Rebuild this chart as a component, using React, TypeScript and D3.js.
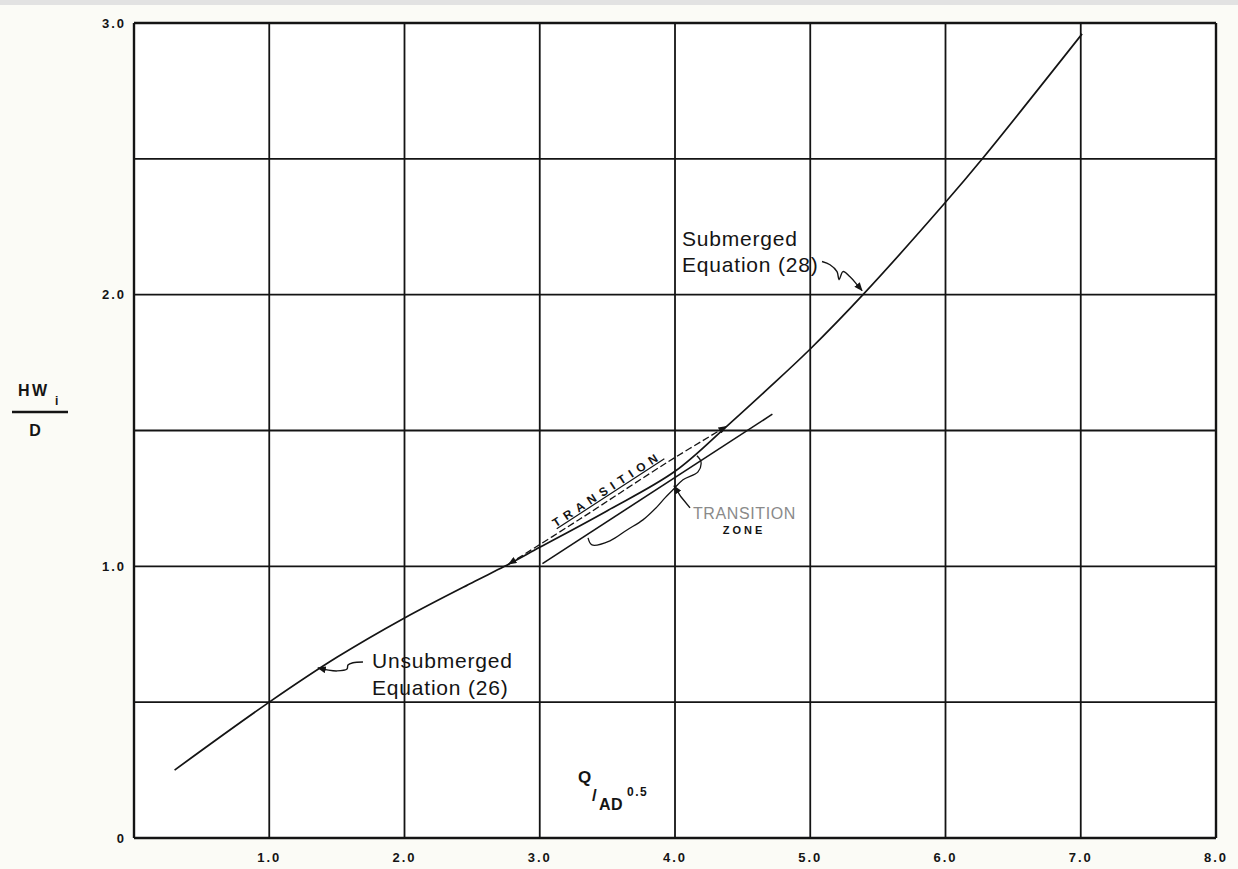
import React, { useEffect } from "react";
import * as d3 from "d3";

// ---- data ----
const xGridValues = [0, 1, 2, 3, 4, 5, 6, 7, 8];
const yGridValues = [0, 0.5, 1, 1.5, 2, 2.5, 3];
const xTickValues = [1, 2, 3, 4, 5, 6, 7, 8];
const xTickLabels = ["1.0", "2.0", "3.0", "4.0", "5.0", "6.0", "7.0", "8.0"];
const yTickValues = [0, 1, 2, 3];
const yTickLabels = ["0", "1.0", "2.0", "3.0"];

// main curve (unsubmerged eq. 26 -> submerged eq. 28)
const mainQ = [0.3, 1.0, 1.5, 2.0, 2.5, 2.74, 3.0, 3.5, 4.0, 4.37, 4.69, 5.0, 5.39, 6.0, 6.28, 7.01];
const mainHW = [0.25, 0.5, 0.665, 0.81, 0.94, 1.0, 1.07, 1.205, 1.35, 1.51, 1.655, 1.8, 2.0, 2.34, 2.505, 2.96];

// lower extension line
const lowerQ = [3.02, 4.72];
const lowerHW = [1.01, 1.56];

// transition dashed line
const transQ = [2.77, 3.3, 3.95, 4.38];
const transHW = [1.008, 1.175, 1.385, 1.515];

// leaders / brace
const subLeaderQ = [5.087, 5.146, 5.198, 5.213, 5.242, 5.294, 5.346, 5.383];
const subLeaderHW = [2.122, 2.11, 2.085, 2.055, 2.085, 2.066, 2.037, 2.015];
const unsubLeaderQ = [1.693, 1.619, 1.582, 1.575, 1.501, 1.427, 1.36];
const unsubLeaderHW = [0.648, 0.645, 0.637, 0.622, 0.615, 0.619, 0.626];
const braceQ = [3.357, 3.386, 3.519, 3.645, 3.763, 3.867, 3.926, 3.985, 4.059, 4.17, 4.192, 4.162];
const braceHW = [1.105, 1.079, 1.094, 1.134, 1.171, 1.219, 1.252, 1.282, 1.319, 1.348, 1.385, 1.407];
const zoneArrowQ = [4.111, 4.044, 3.993];
const zoneArrowHW = [1.215, 1.256, 1.296];

const W = 1238;
const H = 869;
const FONT = "'Liberation Sans', Arial, Helvetica, sans-serif";

export default function App() {
  useEffect(() => {
    document.body.style.margin = "0";
    document.body.style.background = "#fbfbf6";
  }, []);

  const x = d3.scaleLinear().domain([0, 8]).range([134, 1216]);
  const y = d3.scaleLinear().domain([0, 3]).range([838, 23]);

  const pts = (qs: number[], hs: number[]) => qs.map((q, i) => [q, hs[i]] as [number, number]);
  const smoothCR = d3.line<[number, number]>().x((d) => x(d[0])).y((d) => y(d[1])).curve(d3.curveCatmullRom.alpha(0.5));
  const straight = d3.line<[number, number]>().x((d) => x(d[0])).y((d) => y(d[1]));

  const ink = "#141414";

  return (
    <svg width={W} height={H} style={{ display: "block" }} xmlns="http://www.w3.org/2000/svg">
      <defs>
        <marker id="arr" viewBox="0 0 10 8" refX="9" refY="4" markerWidth="9" markerHeight="7" markerUnits="userSpaceOnUse" orient="auto-start-reverse">
          <path d="M0,0 L10,4 L0,8 Z" fill={ink} />
        </marker>
      </defs>
      <rect x={0} y={0} width={W} height={H} fill="#fbfbf6" />
      <rect x={0} y={0} width={W} height={5} fill="#e2e2e2" />
      <rect x={x(0)} y={y(3)} width={x(8) - x(0)} height={y(0) - y(3)} fill="#ffffff" />

      {/* grid */}
      {xGridValues.map((v) => (
        <line key={"gx" + v} x1={x(v)} x2={x(v)} y1={y(0)} y2={y(3)} stroke={ink} strokeWidth={v === 0 || v === 8 ? 2.4 : 1.8} />
      ))}
      {yGridValues.map((v) => (
        <line key={"gy" + v} x1={x(0)} x2={x(8)} y1={y(v)} y2={y(v)} stroke={ink} strokeWidth={v === 0 || v === 3 ? 2.4 : 1.8} />
      ))}

      {/* tick labels */}
      {xTickValues.map((v, i) => (
        <text key={"xt" + v} x={x(v)} y={862} textAnchor="middle" fontFamily={FONT} fontWeight="bold" fontSize={13} letterSpacing={2} fill={ink}>
          {xTickLabels[i]}
        </text>
      ))}
      {yTickValues.map((v, i) => (
        <text key={"yt" + v} x={126} y={y(v)} dy="0.36em" textAnchor="end" fontFamily={FONT} fontWeight="bold" fontSize={13} letterSpacing={2} fill={ink}>
          {yTickLabels[i]}
        </text>
      ))}

      {/* y axis title */}
      <text x={18} y={396} fontFamily={FONT} fontWeight="bold" fontSize={16} letterSpacing={2.5} fill={ink}>HW</text>
      <text x={55} y={405} fontFamily={FONT} fontWeight="bold" fontSize={12} fill={ink}>i</text>
      <line x1={12} x2={68} y1={412} y2={412} stroke={ink} strokeWidth={2.4} />
      <text x={35} y={436} textAnchor="middle" fontFamily={FONT} fontWeight="bold" fontSize={16} fill={ink}>D</text>

      {/* x axis title */}
      <text x={578} y={783} fontFamily={FONT} fontWeight="bold" fontSize={17} fill={ink}>Q</text>
      <text x={592} y={801} fontFamily={FONT} fontWeight="bold" fontSize={17} fill={ink}>/</text>
      <text x={599} y={810} fontFamily={FONT} fontWeight="bold" fontSize={16} letterSpacing={0.5} fill={ink}>AD</text>
      <text x={627} y={796} fontFamily={FONT} fontWeight="bold" fontSize={12} letterSpacing={1.5} fill={ink}>0.5</text>

      {/* curves */}
      <path d={smoothCR(pts(mainQ, mainHW)) || ""} fill="none" stroke={ink} strokeWidth={1.7} />
      <path d={straight(pts(lowerQ, lowerHW)) || ""} fill="none" stroke={ink} strokeWidth={1.6} />
      <path d={smoothCR(pts(transQ, transHW)) || ""} fill="none" stroke={ink} strokeWidth={1.3} strokeDasharray="7 3" markerStart="url(#arr)" markerEnd="url(#arr)" />

      {/* TRANSITION text along line */}
      <text
        transform={`translate(${x(3.5)},${y(1.285)}) rotate(-33)`}
        textAnchor="middle"
        dy="0.35em"
        fontFamily={FONT}
        fontWeight="bold"
        fontSize={12}
        letterSpacing={5.5}
        fill={ink}
        textDecoration="underline"
      >
        TRANSITION
      </text>

      {/* brace & zone arrow */}
      <path d={smoothCR(pts(braceQ, braceHW)) || ""} fill="none" stroke={ink} strokeWidth={1.3} />
      <path d={straight(pts(zoneArrowQ, zoneArrowHW)) || ""} fill="none" stroke={ink} strokeWidth={1.4} markerEnd="url(#arr)" />
      <text x={693} y={519} fontFamily={FONT} fontSize={16} letterSpacing={0.6} fill="#8a8a8a">TRANSITION</text>
      <text x={744} y={534} textAnchor="middle" fontFamily={FONT} fontWeight="bold" fontSize={11} letterSpacing={3} fill={ink}>ZONE</text>

      {/* submerged label */}
      <text x={682} y={246} fontFamily={FONT} fontSize={21} letterSpacing={0.8} fill={ink}>Submerged</text>
      <text x={682} y={272} fontFamily={FONT} fontSize={21} letterSpacing={0.8} fill={ink}>Equation (28)</text>
      <path d={smoothCR(pts(subLeaderQ, subLeaderHW)) || ""} fill="none" stroke={ink} strokeWidth={1.4} markerEnd="url(#arr)" />

      {/* unsubmerged label */}
      <text x={372} y={668} fontFamily={FONT} fontSize={21} letterSpacing={0.8} fill={ink}>Unsubmerged</text>
      <text x={372} y={695} fontFamily={FONT} fontSize={21} letterSpacing={0.8} fill={ink}>Equation (26)</text>
      <path d={smoothCR(pts(unsubLeaderQ, unsubLeaderHW)) || ""} fill="none" stroke={ink} strokeWidth={1.4} markerEnd="url(#arr)" />
    </svg>
  );
}
